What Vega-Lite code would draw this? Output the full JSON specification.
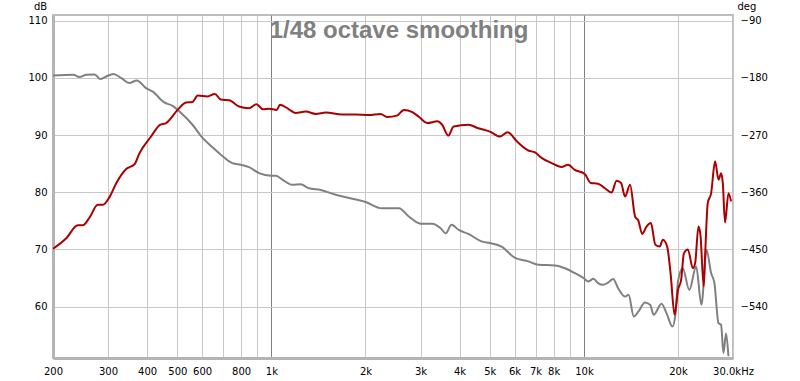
{
  "$schema": "https://vega.github.io/schema/vega-lite/v6.json",
  "width": 680,
  "height": 343,
  "autosize": {"type": "none"},
  "padding": {"left": 53, "top": 15, "right": 67, "bottom": 23},
  "background": "white",
  "title": {
    "text": "1/48 octave smoothing",
    "font": "Liberation Sans",
    "fontSize": 24,
    "fontWeight": "bold",
    "color": "#808080",
    "anchor": "middle",
    "frame": "group",
    "baseline": "alphabetic",
    "offset": -61,
    "dx": 6
  },
  "config": {
    "view": {"stroke": "#bdbdbd", "strokeWidth": 2},
    "axis": {
      "labelFont": "DejaVu Sans",
      "labelFontSize": 10,
      "labelColor": "#000000",
      "titleFont": "DejaVu Sans",
      "titleFontSize": 10,
      "titleFontWeight": "normal",
      "titleColor": "#000000",
      "ticks": false,
      "gridColor": "#c8c8c8",
      "gridWidth": 1,
      "gridOpacity": 1
    }
  },
  "datasets": {
    "mag": [
      {"f": 200, "db": 70.1}, {"f": 221, "db": 72.0}, {"f": 240, "db": 74.2}, {"f": 249, "db": 74.2},
      {"f": 262, "db": 75.6}, {"f": 278, "db": 77.8}, {"f": 289, "db": 77.8}, {"f": 303, "db": 79.1},
      {"f": 319, "db": 81.6}, {"f": 343, "db": 84.05}, {"f": 365, "db": 84.9}, {"f": 378, "db": 86.8},
      {"f": 412, "db": 89.75}, {"f": 440, "db": 91.8}, {"f": 460, "db": 92.1}, {"f": 501, "db": 94.4},
      {"f": 533, "db": 95.7}, {"f": 559, "db": 95.8}, {"f": 581, "db": 96.9}, {"f": 624, "db": 96.75},
      {"f": 659, "db": 97.2}, {"f": 689, "db": 96.2}, {"f": 732, "db": 96.1}, {"f": 788, "db": 95.0},
      {"f": 848, "db": 94.7}, {"f": 895, "db": 95.4}, {"f": 940, "db": 94.5}, {"f": 984, "db": 94.6},
      {"f": 1040, "db": 94.4}, {"f": 1065, "db": 95.3}, {"f": 1138, "db": 94.5}, {"f": 1196, "db": 93.85},
      {"f": 1288, "db": 94.1}, {"f": 1387, "db": 93.7}, {"f": 1493, "db": 93.95}, {"f": 1684, "db": 93.6},
      {"f": 1858, "db": 93.6}, {"f": 2049, "db": 93.5}, {"f": 2234, "db": 93.7}, {"f": 2348, "db": 93.15},
      {"f": 2520, "db": 93.4}, {"f": 2655, "db": 94.4}, {"f": 2825, "db": 94.0}, {"f": 2970, "db": 93.15},
      {"f": 3155, "db": 92.1}, {"f": 3394, "db": 92.4}, {"f": 3520, "db": 91.8}, {"f": 3680, "db": 89.9},
      {"f": 3830, "db": 91.5}, {"f": 4270, "db": 91.8}, {"f": 4590, "db": 91.2}, {"f": 5000, "db": 90.6},
      {"f": 5396, "db": 89.75}, {"f": 5700, "db": 90.5}, {"f": 6100, "db": 88.9}, {"f": 6640, "db": 87.3},
      {"f": 6980, "db": 86.95}, {"f": 7320, "db": 86.0}, {"f": 7880, "db": 85.1}, {"f": 8480, "db": 84.4},
      {"f": 8900, "db": 84.8}, {"f": 9350, "db": 83.9}, {"f": 10060, "db": 83.2}, {"f": 10520, "db": 81.6},
      {"f": 11100, "db": 81.5}, {"f": 11680, "db": 80.7}, {"f": 12260, "db": 79.95}, {"f": 12720, "db": 82.0},
      {"f": 13150, "db": 81.6}, {"f": 13540, "db": 79.25}, {"f": 14050, "db": 81.3}, {"f": 14580, "db": 75.75},
      {"f": 14930, "db": 75.05}, {"f": 15370, "db": 72.7}, {"f": 15860, "db": 74.0}, {"f": 16380, "db": 74.6},
      {"f": 16930, "db": 70.8}, {"f": 17480, "db": 70.5}, {"f": 17900, "db": 71.7}, {"f": 18470, "db": 70.5},
      {"f": 18940, "db": 65.8}, {"f": 19510, "db": 58.55}, {"f": 20000, "db": 62.9}, {"f": 20480, "db": 64.7},
      {"f": 20890, "db": 69.3}, {"f": 21510, "db": 70.0}, {"f": 22320, "db": 66.7}, {"f": 22700, "db": 67.6},
      {"f": 23260, "db": 74.0}, {"f": 23600, "db": 72.55}, {"f": 24180, "db": 63.5}, {"f": 24420, "db": 68.75},
      {"f": 24910, "db": 78.1}, {"f": 25530, "db": 79.8}, {"f": 26290, "db": 85.4}, {"f": 26960, "db": 82.2},
      {"f": 27480, "db": 83.3}, {"f": 27830, "db": 81.6}, {"f": 28290, "db": 74.7}, {"f": 29010, "db": 79.8},
      {"f": 29580, "db": 78.4}
    ],
    "phase": [
      {"f": 200, "deg": -176.4}, {"f": 232, "deg": -175.05}, {"f": 243, "deg": -178.65}, {"f": 256, "deg": -175.05},
      {"f": 272, "deg": -174.6}, {"f": 283, "deg": -181.8}, {"f": 296, "deg": -177.75}, {"f": 312, "deg": -173.7},
      {"f": 331, "deg": -180.45}, {"f": 351, "deg": -188.1}, {"f": 371, "deg": -184.05}, {"f": 397, "deg": -196.2},
      {"f": 417, "deg": -201.6}, {"f": 454, "deg": -218.7}, {"f": 483, "deg": -224.1}, {"f": 508, "deg": -233.1},
      {"f": 559, "deg": -253.8}, {"f": 602, "deg": -274.5}, {"f": 641, "deg": -287.1}, {"f": 689, "deg": -301.05},
      {"f": 750, "deg": -314.1}, {"f": 798, "deg": -316.8}, {"f": 848, "deg": -320.4}, {"f": 913, "deg": -329.85},
      {"f": 996, "deg": -333.9}, {"f": 1035, "deg": -333.9}, {"f": 1084, "deg": -340.2}, {"f": 1166, "deg": -348.3},
      {"f": 1240, "deg": -347.4}, {"f": 1318, "deg": -353.7}, {"f": 1438, "deg": -356.4}, {"f": 1606, "deg": -364.05},
      {"f": 1789, "deg": -369.45}, {"f": 2000, "deg": -375.3}, {"f": 2256, "deg": -385.2}, {"f": 2558, "deg": -385.2},
      {"f": 2752, "deg": -398.25}, {"f": 3000, "deg": -409.5}, {"f": 3270, "deg": -409.5}, {"f": 3480, "deg": -416.7},
      {"f": 3610, "deg": -424.8}, {"f": 3770, "deg": -411.3}, {"f": 3976, "deg": -419.4}, {"f": 4270, "deg": -425.7},
      {"f": 4700, "deg": -437.4}, {"f": 5000, "deg": -440.1}, {"f": 5450, "deg": -445.5}, {"f": 6020, "deg": -463.5},
      {"f": 6640, "deg": -468.9}, {"f": 7160, "deg": -474.3}, {"f": 8080, "deg": -475.2}, {"f": 8700, "deg": -479.7},
      {"f": 9350, "deg": -487.35}, {"f": 9960, "deg": -495.0}, {"f": 10340, "deg": -500.4}, {"f": 10730, "deg": -496.35},
      {"f": 11100, "deg": -503.1}, {"f": 11520, "deg": -505.8}, {"f": 11950, "deg": -502.2}, {"f": 12400, "deg": -496.8},
      {"f": 12870, "deg": -511.2}, {"f": 13540, "deg": -524.25}, {"f": 13900, "deg": -521.55}, {"f": 14440, "deg": -555.75},
      {"f": 14930, "deg": -548.1}, {"f": 15680, "deg": -533.7}, {"f": 16290, "deg": -537.3}, {"f": 16720, "deg": -553.05},
      {"f": 17720, "deg": -535.5}, {"f": 18380, "deg": -550.35}, {"f": 19200, "deg": -571.5}, {"f": 19650, "deg": -550.35},
      {"f": 20000, "deg": -500.4}, {"f": 20720, "deg": -479.7}, {"f": 21740, "deg": -513.9}, {"f": 22870, "deg": -477.0},
      {"f": 23770, "deg": -537.3}, {"f": 24690, "deg": -450.9}, {"f": 25530, "deg": -487.35}, {"f": 26160, "deg": -503.1},
      {"f": 26960, "deg": -566.1}, {"f": 27480, "deg": -568.8}, {"f": 27960, "deg": -613.35}, {"f": 28500, "deg": -582.3},
      {"f": 29010, "deg": -618.3}
    ]
  },
  "layer": [
    {
      "data": {"name": "phase"},
      "mark": {"type": "line", "color": "#808080", "strokeWidth": 2, "clip": true, "interpolate": "monotone"},
      "encoding": {
        "x": {
          "field": "f", "type": "quantitative",
          "scale": {"type": "log", "domain": [200, 30000], "nice": false},
          "axis": {
            "orient": "bottom",
            "title": null,
            "values": [200, 300, 400, 500, 600, 700, 800, 900, 1000, 2000, 3000, 4000, 5000, 6000, 7000, 8000, 9000, 10000, 20000, 30000],
            "labelExpr": "indexof([700,900,9000], datum.value) >= 0 ? '' : datum.value >= 30000 ? '30.0kHz' : datum.value >= 1000 ? format(datum.value/1000,'d') + 'k' : format(datum.value,'d')",
            "labelOverlap": false,
            "labelBound": false,
            "labelFlush": false,
            "labelPadding": 8,
            "grid": true,
            "gridColor": {"condition": {"test": "datum.value === 1000 || datum.value === 10000", "value": "#808080"}, "value": "#c8c8c8"},
            "domain": true,
            "domainColor": "#b4b4b4",
            "domainWidth": 3
          }
        },
        "y": {
          "field": "deg", "type": "quantitative",
          "scale": {"domain": [-621, -81], "nice": false, "zero": false},
          "axis": {
            "orient": "right",
            "title": "deg",
            "titleAngle": 0,
            "titleAlign": "left",
            "titleBaseline": "alphabetic",
            "titleX": 4,
            "titleY": -6,
            "values": [-540, -450, -360, -270, -180, -90],
            "labelPadding": 7,
            "grid": false,
            "domain": false
          }
        }
      }
    },
    {
      "data": {"name": "mag"},
      "mark": {"type": "line", "color": "#aa0000", "strokeWidth": 2, "clip": true, "interpolate": "monotone"},
      "encoding": {
        "x": {"field": "f", "type": "quantitative", "scale": {"type": "log", "domain": [200, 30000], "nice": false}},
        "y": {
          "field": "db", "type": "quantitative",
          "scale": {"domain": [51, 111], "nice": false, "zero": false},
          "axis": {
            "orient": "left",
            "title": "dB",
            "titleAngle": 0,
            "titleAlign": "center",
            "titleBaseline": "alphabetic",
            "titleX": -13,
            "titleY": -6,
            "values": [60, 70, 80, 90, 100, 110],
            "labelPadding": 6,
            "grid": true,
            "domain": true,
            "domainColor": "#b4b4b4",
            "domainWidth": 3
          }
        }
      }
    }
  ],
  "resolve": {"scale": {"y": "independent"}}
}
